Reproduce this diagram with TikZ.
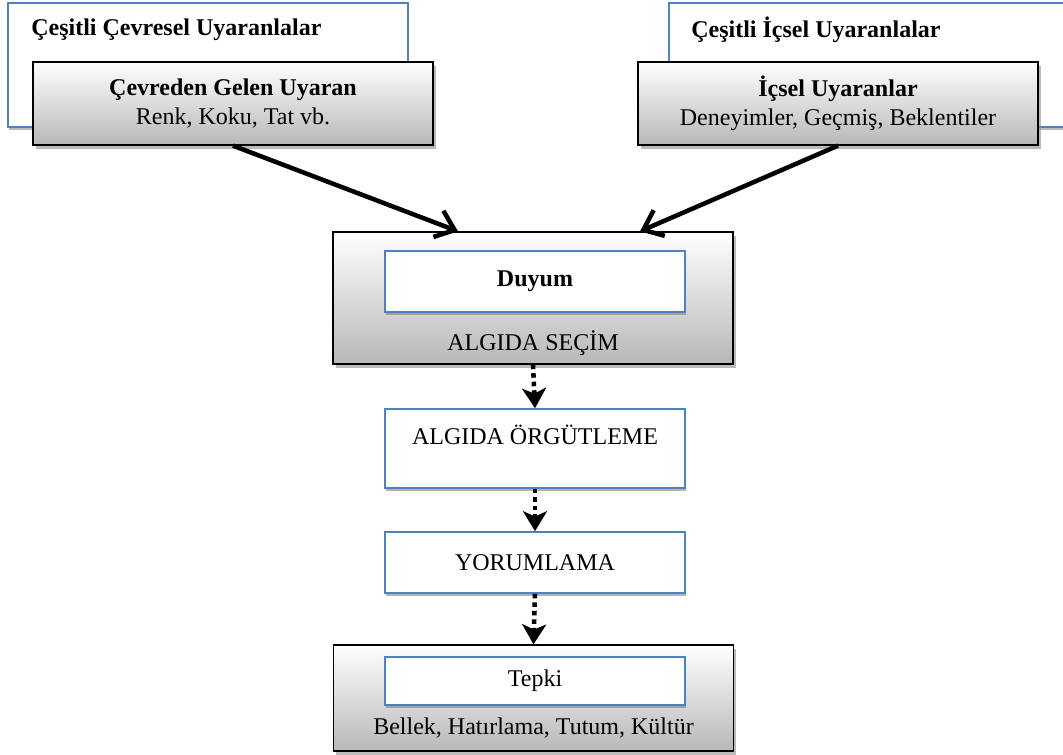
\documentclass[tikz,border=0pt]{standalone}
\usepackage{fontspec}
\setmainfont{Liberation Serif}
\usetikzlibrary{arrows.meta,shadows,calc}
\definecolor{boxblue}{RGB}{79,129,189}

\begin{document}
\begin{tikzpicture}[x=0.75pt,y=0.75pt,yscale=-1,xscale=1,
	font=\fontsize{18pt}{21.6pt}\selectfont,
	outerbox/.style={draw=boxblue,line width=1.2pt,fill=white,drop shadow={shadow xshift=1pt,shadow yshift=-2pt,fill=black!45,opacity=.6}},
	innerbox/.style={draw=boxblue,line width=1.2pt,fill=white,minimum width=225pt,drop shadow={shadow xshift=0.5pt,shadow yshift=-2pt,fill=black!50,opacity=.6}},
	greybox/.style={draw=black,line width=1pt,top color=white,bottom color=black!28,minimum width=300pt,drop shadow={shadow xshift=2pt,shadow yshift=-3pt,fill=black!45,opacity=.6}},
	plain/.style={inner sep=0.75pt},
	solidarrow/.style={line width=3.4pt,-{Straight Barb[length=13pt,width=21pt,line width=3.4pt]}},
	dotarrow/.style={line width=3.4pt,dash pattern=on 3.4pt off 3pt,-{Stealth[length=15pt,width=18pt,inset=4pt]}}]
	\useasboundingbox (0,0) rectangle (1063,755);

	\node [outerbox,minimum width=300pt,minimum height=93pt] (envout) at (208,65) {};
	\node [outerbox,minimum width=316pt,minimum height=93pt] (inout) at (879.5,65) {};
	\node [plain,anchor=west,font=\fontsize{18pt}{21.6pt}\selectfont\bfseries] (envtitle) at (30,30) {Çeşitli Çevresel Uyaranlalar};
	\node [plain,anchor=west,font=\fontsize{18pt}{21.6pt}\selectfont\bfseries] (intitle) at (690,30) {Çeşitli İçsel Uyaranlalar};

	\node [greybox,minimum height=62.25pt,align=center] (envin) at (233,103.5) {\textbf{Çevreden Gelen Uyaran}\\Renk, Koku, Tat vb.};
	\node [greybox,minimum height=62.25pt,align=center] (inin) at (838,103.5) {\textbf{İçsel Uyaranlar}\\Deneyimler, Geçmiş, Beklentiler};

	\node [greybox,minimum height=99pt] (selbox) at (533,298) {};
	\node [innerbox,minimum height=45.75pt,font=\fontsize{18pt}{21.6pt}\selectfont\bfseries] (duyum) at (535,281.5) {Duyum};
	\node [plain] (sellabel) at (533,343) {ALGIDA SEÇİM};

	\node [innerbox,minimum height=59.25pt] (orgbox) at (535,448.5) {};
	\node [plain] (orglabel) at (535,435) {ALGIDA ÖRGÜTLEME};

	\node [innerbox,minimum height=45.75pt] (yorum) at (535,562.5) {YORUMLAMA};

	\node [greybox,minimum height=79.5pt] (tepbox) at (533.5,698) {};
	\node [innerbox,minimum height=36pt] (tepki) at (535,681) {Tepki};
	\node [plain] (teplabel) at (533.5,728) {Bellek, Hatırlama, Tutum, Kültür};

	\draw [solidarrow] (envin.south) -- ($(selbox.north)+(-75,0)$);
	\draw [solidarrow] (inin.south) -- ($(selbox.north)+(107,0)$);
	\draw [dotarrow] (selbox.south) -- (orgbox.north);
	\draw [dotarrow] (orgbox.south) -- (yorum.north);
	\draw [dotarrow] (yorum.south) -- (tepbox.north);
\end{tikzpicture}
\end{document}
